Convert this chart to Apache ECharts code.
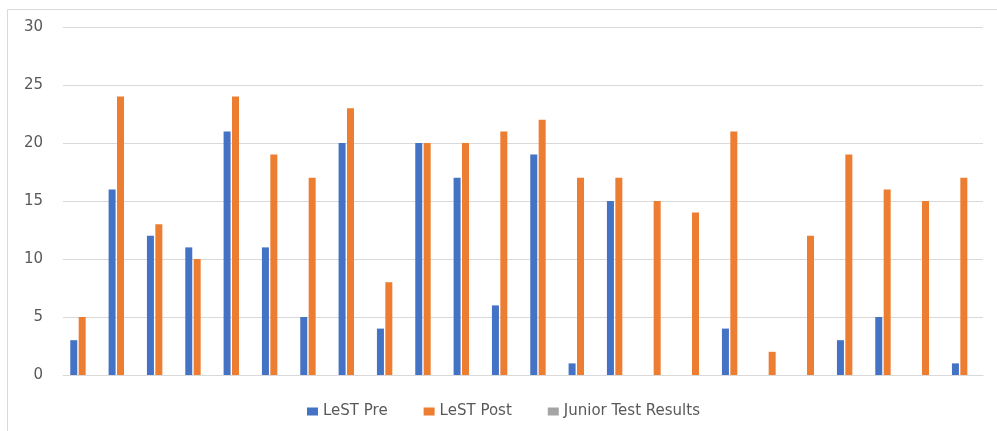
<!DOCTYPE html>
<html>
<head>
<meta charset="UTF-8">
<title>LeST results</title>
<script src="https://cdn.jsdelivr.net/npm/echarts@6/dist/echarts.min.js"></script>
<style>
  html, body { margin: 0; padding: 0; background: #fff; }
</style>
</head>
<body>
<div id="main" style="width:997px;height:431px;"></div>
<script>
    // one category per student, x labels are not shown
    var students = ['1', '2', '3', '4', '5', '6', '7', '8', '9', '10', '11', '12',
        '13', '14', '15', '16', '17', '18', '19', '20', '21', '22', '23', '24'];
    var lestPre = [3, 16, 12, 11, 21, 11, 5, 20, 4, 20, 17, 6,
        19, 1, 15, 0, 0, 4, 0, 0, 3, 5, 0, 1];
    var lestPost = [5, 24, 13, 10, 24, 19, 17, 23, 8, 20, 20, 21,
        22, 17, 17, 15, 14, 21, 2, 12, 19, 16, 15, 17];
    // third series is empty in the source chart
    var juniorTest = [];
    var yTicks = [0, 5, 10, 15, 20, 25, 30];

    var myChart = echarts.init(document.getElementById('main'));

    var option = {
        backgroundColor: '#fff',
        animation: false,
        textStyle: {fontFamily: 'DejaVu Sans'},
        graphic: [{
            type: 'rect',
            shape: {x: 7.5, y: 9.5, width: 1000, height: 430},
            style: {fill: 'none', stroke: '#D9D9D9', lineWidth: 1},
            silent: true
        }],
        grid: {left: 63, right: 14, top: 27, bottom: 56},
        legend: {
            left: 302,
            top: 399,
            itemWidth: 11,
            itemHeight: 8,
            itemGap: 36,
            icon: 'rect',
            textStyle: {color: '#595959', fontSize: 15, fontFamily: 'DejaVu Sans'},
            data: ['LeST Pre', 'LeST Post', 'Junior Test Results']
        },
        xAxis: {
            type: 'category',
            data: students,
            axisLine: {lineStyle: {color: '#D9D9D9'}},
            axisTick: {show: false},
            axisLabel: {show: false}
        },
        yAxis: {
            type: 'value',
            min: yTicks[0],
            max: yTicks[yTicks.length - 1],
            interval: 5,
            axisLine: {show: false},
            axisTick: {show: false},
            axisLabel: {color: '#595959', fontSize: 15, margin: 20},
            splitLine: {lineStyle: {color: '#D9D9D9', width: 1}}
        },
        series: [
            {
                name: 'LeST Pre',
                type: 'bar',
                data: lestPre,
                barWidth: 7,
                barGap: '20%',
                itemStyle: {color: '#4472C4'}
            },
            {
                name: 'LeST Post',
                type: 'bar',
                data: lestPost,
                barWidth: 7,
                barGap: '20%',
                itemStyle: {color: '#ED7D31'}
            },
            {
                name: 'Junior Test Results',
                type: 'bar',
                data: juniorTest,
                barWidth: 7,
                barGap: '20%',
                itemStyle: {color: '#A5A5A5'}
            }
        ]
    };

    myChart.setOption(option);
</script>
</body>
</html>
